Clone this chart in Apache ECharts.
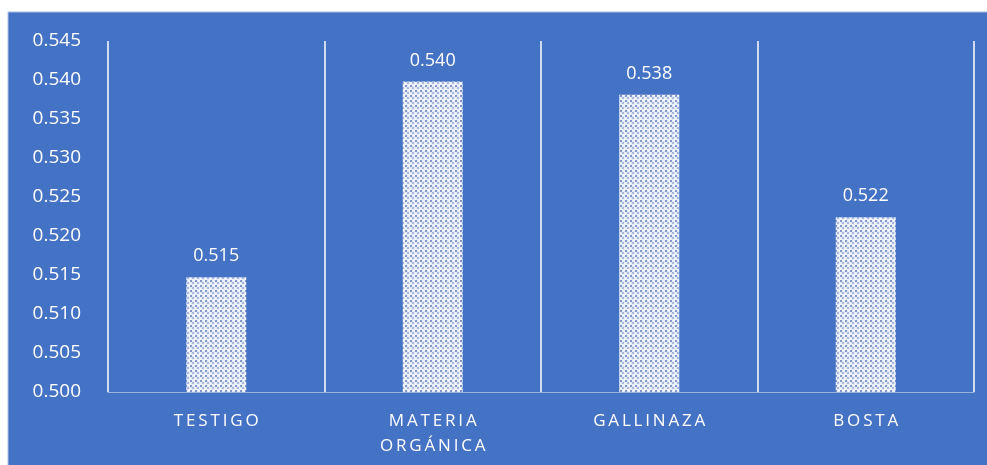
<!DOCTYPE html>
<html>
<head>
<meta charset="utf-8">
<script src="https://cdn.jsdelivr.net/npm/echarts@6/dist/echarts.min.js"></script>
<style>
  html, body { margin: 0; padding: 0; background: #ffffff; }
  #chart { width: 987px; height: 465px; }
</style>
</head>
<body>
<div id="chart"></div>
<script>
// Category names and measured values
const categories = ['TESTIGO', 'MATERIA\nORGÁNICA', 'GALLINAZA', 'BOSTA'];
const values = [0.5147, 0.5398, 0.5381, 0.5224];
const yTicks = { min: 0.500, max: 0.545, step: 0.005 };

// Spread letters apart with thin spaces for the tracked-out category labels
function track(s) {
  return s.split('\n').map(line => line.split('').join('\u2009')).join('\n');
}

// Small diagonal dotted fill used for the bars
function dotPattern() {
  const c = document.createElement('canvas');
  c.width = 5; c.height = 5;
  const g = c.getContext('2d');
  g.fillStyle = '#e6ecf8';
  g.fillRect(0, 0, 5, 5);
  g.fillStyle = '#8097cc';
  g.fillRect(0, 0, 2, 2);
  g.fillStyle = '#a9b9e0';
  g.fillRect(2, 2, 2, 2);
  g.fillStyle = '#f7f9fd';
  g.fillRect(3, 0, 2, 1);
  g.fillRect(0, 3, 1, 2);
  return c;
}

const font = '"Open Sans", "Noto Sans", sans-serif';
const chart = echarts.init(document.getElementById('chart'), null, { renderer: 'canvas' });

chart.setOption({
  backgroundColor: '#ffffff',
  animation: false,
  graphic: [{
    type: 'rect',
    z: -10,
    silent: true,
    shape: { x: 8, y: 12, width: 990, height: 460 },
    style: { fill: '#4472c4', stroke: '#a9bde4', lineWidth: 1 }
  }],
  grid: { left: 108, right: 13, top: 41, bottom: 73 },
  xAxis: {
    type: 'category',
    data: categories,
    boundaryGap: true,
    axisLine: { show: true, lineStyle: { color: 'rgba(255,255,255,0.45)', width: 1 } },
    axisTick: { show: false },
    splitLine: { show: true, lineStyle: { color: '#ffffff', width: 1.5 } },
    axisLabel: {
      color: '#ffffff',
      fontFamily: font,
      fontSize: 17,
      margin: 17,
      lineHeight: 25,
      interval: 0,
      formatter: v => track(v)
    }
  },
  yAxis: {
    type: 'value',
    min: yTicks.min,
    max: yTicks.max,
    interval: yTicks.step,
    axisLine: { show: false },
    axisTick: { show: false },
    splitLine: { show: false },
    axisLabel: {
      color: '#ffffff',
      fontFamily: font,
      fontSize: 19,
      margin: 27,
      formatter: v => v.toFixed(3)
    }
  },
  series: [{
    type: 'bar',
    data: values,
    barWidth: 60,
    itemStyle: { color: { image: dotPattern(), repeat: 'repeat' } },
    label: {
      show: true,
      position: 'top',
      distance: 12,
      color: '#ffffff',
      fontFamily: font,
      fontSize: 18,
      formatter: p => p.value.toFixed(3)
    }
  }]
});
</script>
</body>
</html>
